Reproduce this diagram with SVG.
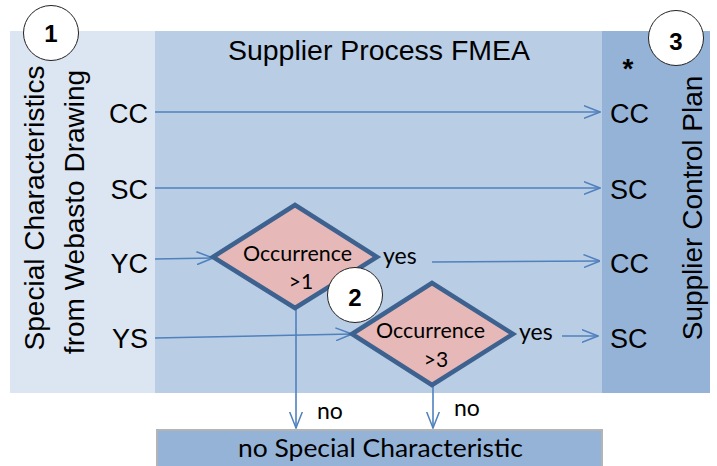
<svg xmlns="http://www.w3.org/2000/svg" width="717" height="466" viewBox="0 0 717 466">
<style>
.arial{font-family:"Liberation Sans",Arial,sans-serif;fill:#000}
.cal{font-family:Lato,"Open Sans",sans-serif;fill:#000}
.lbl{font-size:27px}
.num{font-size:24px;font-weight:bold;text-anchor:middle}
.conn{stroke:#4f81bd;stroke-width:1.6;fill:none}
.dia{fill:#e6b9b8;stroke:#3e6290;stroke-width:4.5;stroke-linejoin:miter}
.badge{fill:#fff;stroke:#222;stroke-width:1}
</style>
<defs>
<marker id="arr" viewBox="0 0 17 14" refX="16.5" refY="7" markerWidth="17" markerHeight="14" markerUnits="userSpaceOnUse" orient="auto">
<path d="M0,0.5 L16.5,7 L0,13.5" fill="none" stroke="#4f81bd" stroke-width="1.5"/>
</marker>
</defs>
<rect width="717" height="466" fill="#fff"/>
<g id="panel-drawing">
<rect x="10" y="31" width="145" height="362" fill="#dce6f2"/>
<text class="arial" font-size="28" transform="translate(44,208) rotate(-90)" text-anchor="middle">Special Characteristics</text>
<text class="arial" font-size="28" transform="translate(84,212) rotate(-90)" text-anchor="middle">from Webasto Drawing</text>
<text class="arial lbl" x="148" y="123" text-anchor="end">CC</text>
<text class="arial lbl" x="148" y="199" text-anchor="end">SC</text>
<text class="arial lbl" x="148" y="273" text-anchor="end">YC</text>
<text class="arial lbl" x="148" y="348" text-anchor="end">YS</text>
</g>
<g id="panel-fmea">
<rect x="155" y="31" width="447" height="362" fill="#b9cde5"/>
<text class="arial" font-size="27" x="379" y="60" text-anchor="middle" textLength="302" lengthAdjust="spacingAndGlyphs">Supplier Process FMEA</text>
</g>
<g id="panel-control-plan">
<rect x="602" y="31" width="108" height="362" fill="#95b3d7"/>
<text class="arial" font-size="28" transform="translate(702,208) rotate(-90)" text-anchor="middle">Supplier Control Plan</text>
<text class="arial" font-size="28" font-weight="bold" x="628" y="78" text-anchor="middle">*</text>
<text class="arial lbl" x="610" y="123">CC</text>
<text class="arial lbl" x="610" y="199">SC</text>
<text class="arial lbl" x="610" y="273">CC</text>
<text class="arial lbl" x="610" y="348">SC</text>
</g>
<g id="no-special">
<rect x="157" y="430" width="445" height="40" fill="#95b3d7" stroke="#b4b4b4" stroke-width="2"/>
<text class="cal" font-size="25" x="380.5" y="457" text-anchor="middle" textLength="285" lengthAdjust="spacingAndGlyphs">no Special Characteristic</text>
</g>
<g id="connectors">
<line class="conn" x1="155" y1="112" x2="600" y2="112" marker-end="url(#arr)"/>
<line class="conn" x1="155" y1="188" x2="600" y2="188" marker-end="url(#arr)"/>
<line class="conn" x1="155" y1="259" x2="213" y2="258" marker-end="url(#arr)"/>
<line class="conn" x1="155" y1="338" x2="352" y2="334" marker-end="url(#arr)"/>
<line class="conn" x1="432" y1="262" x2="600" y2="261" marker-end="url(#arr)"/>
<line class="conn" x1="562" y1="336" x2="598" y2="336" marker-end="url(#arr)"/>
<line class="conn" x1="296" y1="307" x2="296" y2="428" marker-end="url(#arr)"/>
<line class="conn" x1="433" y1="385" x2="433" y2="428" marker-end="url(#arr)"/>
<text class="cal" font-size="23" x="383" y="264">yes</text>
<text class="cal" font-size="23" x="519" y="340">yes</text>
<text class="cal" font-size="23" x="317" y="419">no</text>
<text class="cal" font-size="23" x="454" y="416">no</text>
</g>
<g id="decision-1">
<polygon class="dia" points="213,257 295,205 377,257 295,308"/>
<text class="cal" font-size="21" x="297.5" y="261" text-anchor="middle" textLength="109" lengthAdjust="spacingAndGlyphs">Occurrence</text>
<text class="cal" font-size="21" x="301" y="289" text-anchor="middle">&gt;1</text>
</g>
<g id="decision-2">
<polygon class="dia" points="352,334 432,283 513,334 432,385"/>
<text class="cal" font-size="21" x="430.5" y="338" text-anchor="middle" textLength="109" lengthAdjust="spacingAndGlyphs">Occurrence</text>
<text class="cal" font-size="21" x="436" y="367" text-anchor="middle">&gt;3</text>
</g>
<g id="badge-1">
<circle class="badge" cx="51" cy="33" r="27.5"/>
<text class="arial num" x="51" y="42">1</text>
</g>
<g id="badge-2">
<circle class="badge" cx="355" cy="295" r="27.5"/>
<text class="arial num" x="355" y="306">2</text>
</g>
<g id="badge-3">
<circle class="badge" cx="676" cy="38" r="27.5"/>
<text class="arial num" x="676" y="50">3</text>
</g>
</svg>
